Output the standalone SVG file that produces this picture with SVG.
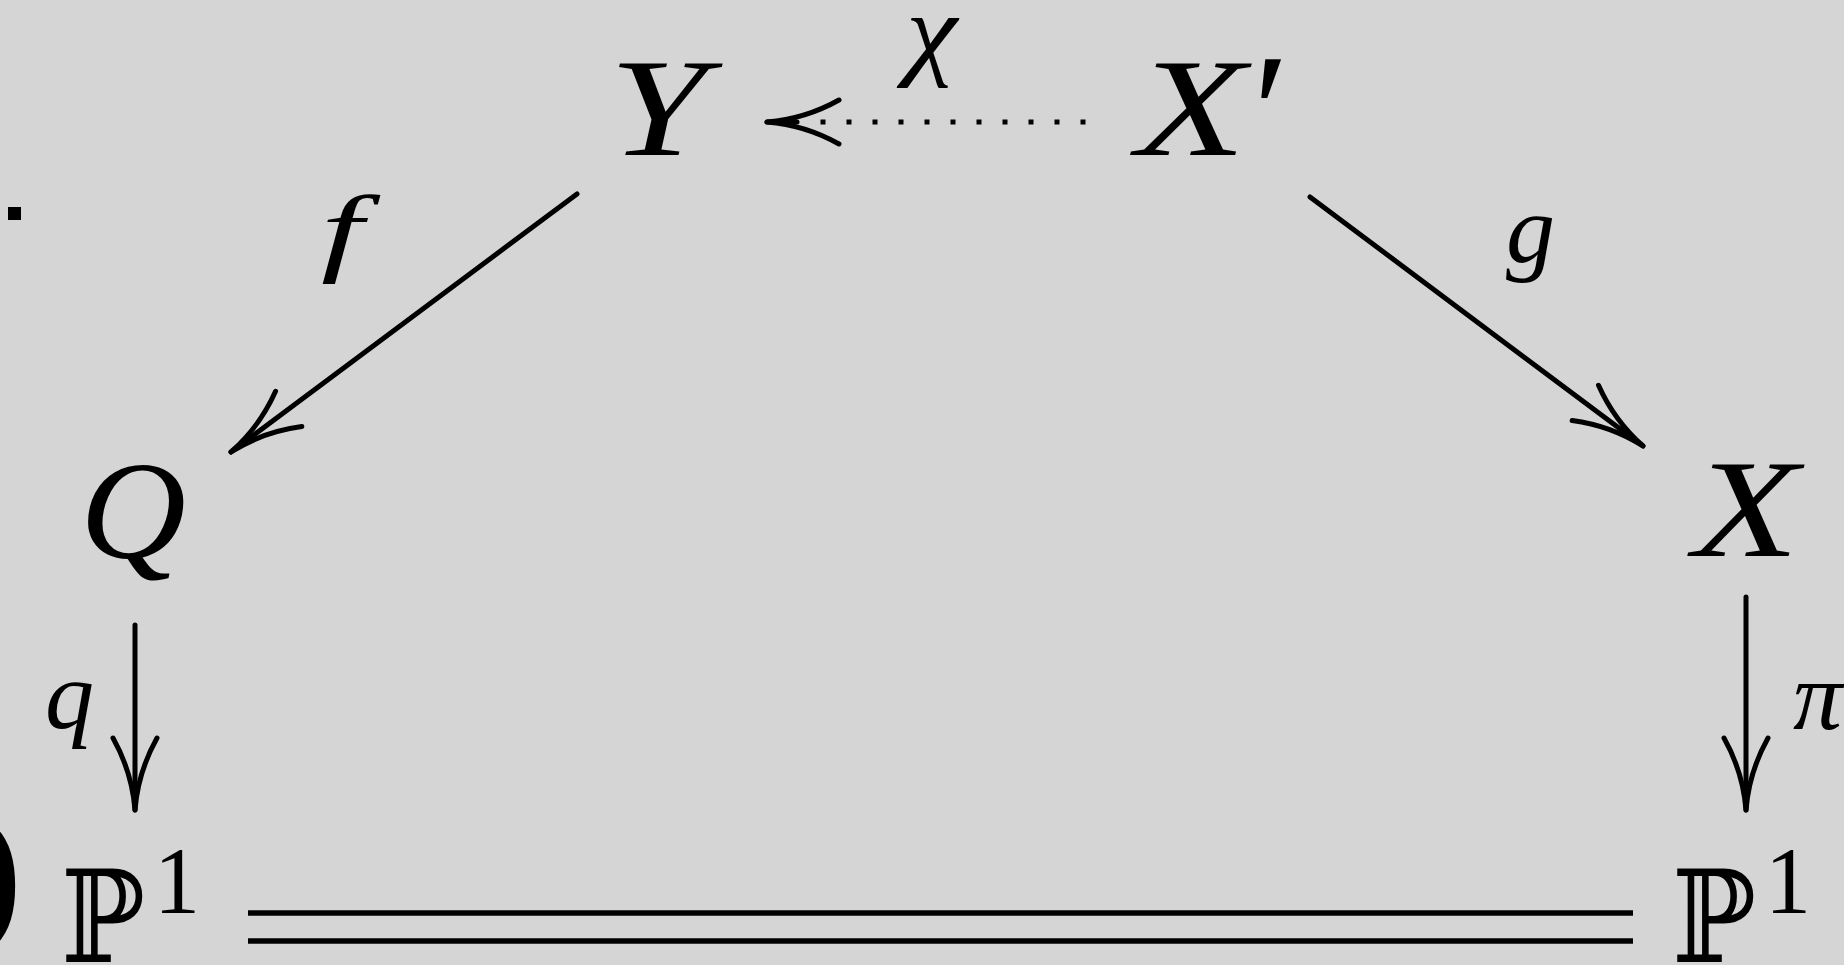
<svg xmlns="http://www.w3.org/2000/svg" width="1844" height="965" viewBox="0 0 1844 965">
<style>
.m{font-family:"Liberation Serif","Times New Roman",serif;font-style:italic;fill:#000}
.r{font-family:"Liberation Serif","Times New Roman",serif;fill:#000}
.bb{font-family:"DejaVu Serif","DejaVu Sans",serif;fill:#000}
.ln{stroke:#000;stroke-width:5;fill:none;stroke-linecap:round}
</style>
<defs>
<marker id="ah" markerUnits="userSpaceOnUse" viewBox="-80 -30 90 60" refX="0" refY="0" markerWidth="90" markerHeight="60" orient="auto" overflow="visible">
<path d="M-72,-22 Q-38,-3 0,0 Q-38,3 -72,22" fill="none" stroke="#000" stroke-width="5" stroke-linecap="round" stroke-linejoin="round"/>
</marker>
</defs>
<rect width="1844" height="965" fill="#d5d5d5"/>
<rect x="8" y="207" width="13" height="13" fill="#000"/>
<text class="r" x="-34" y="927" font-size="170">)</text>

<g id="node-Y"><text class="m" x="609" y="155" font-size="140" textLength="98" lengthAdjust="spacingAndGlyphs">Y</text></g>
<g id="node-Xp"><text class="m" x="1136" y="155" font-size="140" textLength="110" lengthAdjust="spacingAndGlyphs">X</text><text class="m" x="1243" y="168" font-size="165">′</text></g>
<g id="node-Q"><text class="m" x="80" y="558" font-size="140" textLength="106" lengthAdjust="spacingAndGlyphs">Q</text></g>
<g id="node-X"><text class="m" x="1693" y="556" font-size="140" textLength="106" lengthAdjust="spacingAndGlyphs">X</text></g>
<g id="node-P1-left"><text class="bb" x="61" y="962" font-size="128" textLength="84" lengthAdjust="spacingAndGlyphs">ℙ</text><text class="r" x="154" y="913" font-size="95" textLength="46" lengthAdjust="spacingAndGlyphs">1</text></g>
<g id="node-P1-right"><text class="bb" x="1672" y="962" font-size="128" textLength="84" lengthAdjust="spacingAndGlyphs">ℙ</text><text class="r" x="1765" y="913" font-size="95" textLength="46" lengthAdjust="spacingAndGlyphs">1</text></g>

<g id="connectors">
<line class="ln" x1="797" y1="122" x2="767" y2="122" marker-end="url(#ah)"/>
<line x1="820.5" y1="122" x2="1085.5" y2="122" stroke="#000" stroke-width="5" stroke-dasharray="5 21"/>
<line class="ln" x1="577" y1="194" x2="231" y2="452" marker-end="url(#ah)"/>
<line class="ln" x1="1310" y1="197" x2="1643" y2="446" marker-end="url(#ah)"/>
<line class="ln" x1="135" y1="625" x2="135" y2="810" marker-end="url(#ah)"/>
<line class="ln" x1="1746" y1="597" x2="1746" y2="810" marker-end="url(#ah)"/>
<line x1="248" y1="913" x2="1633" y2="913" stroke="#000" stroke-width="5.5"/>
<line x1="248" y1="941" x2="1633" y2="941" stroke="#000" stroke-width="5.5"/>
<text class="m" x="906" y="66" font-size="104" textLength="51" lengthAdjust="spacingAndGlyphs">χ</text>
<text class="m" x="321" y="263" font-size="98" textLength="42" lengthAdjust="spacingAndGlyphs">f</text>
<text class="m" x="1506" y="262" font-size="98">g</text>
<text class="m" x="45" y="728" font-size="98">q</text>
<text class="m" x="1793" y="729" font-size="98">π</text>
</g>
</svg>
